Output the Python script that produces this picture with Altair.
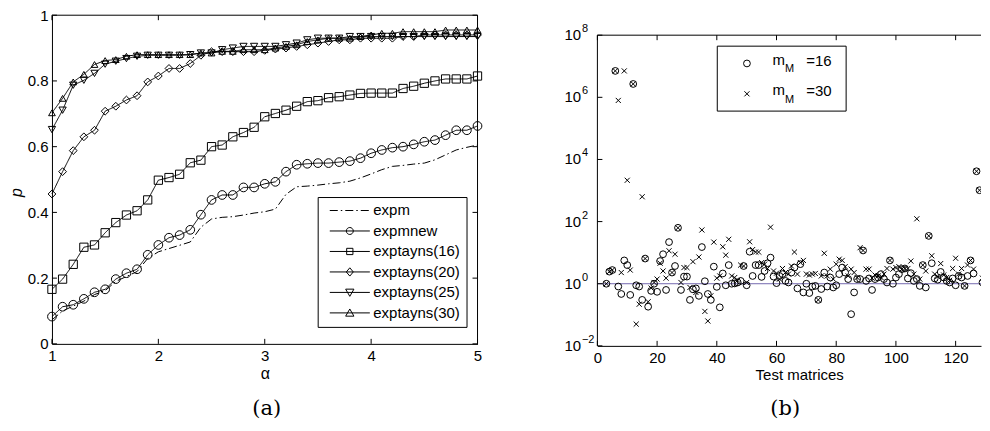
import altair as alt
import pandas as pd

FONT = "Liberation Sans"

# ---------------- panel (a): performance profile ----------------
alpha = [1.0, 1.1, 1.2, 1.3, 1.4, 1.5, 1.6, 1.7, 1.8, 1.9,
         2.0, 2.1, 2.2, 2.3, 2.4, 2.5, 2.6, 2.7, 2.8, 2.9,
         3.0, 3.1, 3.2, 3.3, 3.4, 3.5, 3.6, 3.7, 3.8, 3.9,
         4.0, 4.1, 4.2, 4.3, 4.4, 4.5, 4.6, 4.7, 4.8, 4.9, 5.0]
expm = [0.073, 0.100, 0.115, 0.130, 0.150, 0.162, 0.190, 0.205, 0.220, 0.260,
        0.280, 0.290, 0.300, 0.310, 0.355, 0.380, 0.385, 0.387, 0.392, 0.398,
        0.402, 0.410, 0.455, 0.478, 0.480, 0.483, 0.487, 0.490, 0.495, 0.505,
        0.517, 0.530, 0.540, 0.543, 0.547, 0.550, 0.560, 0.575, 0.590, 0.598, 0.605]
expmnew = [0.083, 0.113, 0.119, 0.137, 0.157, 0.166, 0.197, 0.215, 0.227, 0.271,
           0.301, 0.323, 0.331, 0.347, 0.393, 0.438, 0.453, 0.453, 0.476, 0.476,
           0.487, 0.493, 0.524, 0.545, 0.548, 0.550, 0.550, 0.553, 0.556, 0.565,
           0.580, 0.590, 0.597, 0.600, 0.607, 0.615, 0.620, 0.635, 0.650, 0.650, 0.663]
t16 = [0.166, 0.197, 0.242, 0.294, 0.301, 0.338, 0.369, 0.392, 0.405, 0.438,
       0.498, 0.506, 0.516, 0.551, 0.559, 0.600, 0.605, 0.630, 0.643, 0.659,
       0.691, 0.701, 0.711, 0.723, 0.737, 0.740, 0.749, 0.752, 0.757, 0.762,
       0.763, 0.763, 0.763, 0.777, 0.784, 0.793, 0.800, 0.806, 0.806, 0.806, 0.815]
t20 = [0.456, 0.524, 0.588, 0.630, 0.650, 0.708, 0.723, 0.742, 0.755, 0.797,
       0.815, 0.838, 0.838, 0.853, 0.878, 0.889, 0.889, 0.889, 0.889, 0.889,
       0.893, 0.897, 0.900, 0.905, 0.910, 0.915, 0.920, 0.925, 0.925, 0.930,
       0.930, 0.930, 0.930, 0.935, 0.935, 0.940, 0.940, 0.940, 0.940, 0.940, 0.940]
t25 = [0.652, 0.711, 0.787, 0.802, 0.823, 0.851, 0.860, 0.868, 0.875, 0.878,
       0.878, 0.878, 0.878, 0.880, 0.885, 0.885, 0.895, 0.900, 0.905, 0.905,
       0.905, 0.905, 0.910, 0.915, 0.925, 0.930, 0.930, 0.930, 0.935, 0.935,
       0.935, 0.935, 0.935, 0.935, 0.935, 0.935, 0.935, 0.935, 0.935, 0.935, 0.935]
t30 = [0.703, 0.747, 0.797, 0.820, 0.850, 0.862, 0.865, 0.875, 0.880, 0.880,
       0.880, 0.880, 0.880, 0.880, 0.885, 0.885, 0.890, 0.890, 0.895, 0.895,
       0.895, 0.900, 0.905, 0.910, 0.920, 0.925, 0.930, 0.930, 0.930, 0.935,
       0.940, 0.945, 0.945, 0.950, 0.950, 0.950, 0.950, 0.955, 0.955, 0.955, 0.955]
series_names = ["expm", "expmnew", "exptayns(16)", "exptayns(20)",
                "exptayns(25)", "exptayns(30)"]
xa_ticks = [1, 2, 3, 4, 5]
ya_ticks = [0, 0.2, 0.4, 0.6, 0.8, 1]

# ---------------- panel (b): ratios per test matrix ----------------
matrix_index = list(range(3, 131))
log10_m16 = [0.00, 0.39, 0.44, 6.85, -0.09, -0.33, 0.75, 0.60, -0.36, 6.43,
             -0.05, -0.09, -0.52, 0.81, -0.74, -0.23, 0.00, -0.26, 0.73, 0.95,
             -0.20, 1.34, 0.36, 0.57, 1.80, -0.20, 0.23, 0.23, -0.52, -0.18,
             -0.15, -0.39, 1.18, 0.08, -0.33, -0.52, 0.55, -0.10, -0.76, 0.33,
             -0.05, 0.60, 0.00, 0.01, 0.04, 0.09, 0.57, -0.05, 1.03, 0.25,
             0.60, 0.60, 0.22, 0.41, 0.66, 0.84, 0.23, 0.02, 0.25, 0.31,
             0.09, 0.04, 0.36, 0.52, -0.15, 0.63, -0.28, 0.00, -0.30, -0.09,
             -0.07, -0.52, -0.17, 0.36, -0.09, 0.20, -0.12, -0.05, 0.31, 0.52,
             0.36, 0.15, -0.98, -0.28, 0.15, 0.15, 1.07, 0.09, 0.17, -0.20,
             0.15, 0.20, 0.31, 0.15, 0.04, 0.75, 0.00, 0.20, 0.31, 0.47,
             0.49, 0.17, 0.34, 0.09, 0.15, -0.07, 0.60, -0.12, 1.54, 0.66,
             0.17, 0.13, 0.38, 0.20, 0.09, 0.04, 0.17, -0.05, 0.25, 0.20,
             -0.07, 0.25, 0.75, 0.33, 3.62, 3.01, 0.04, 0.70]
log10_m30 = [0.00, 0.39, 0.44, 6.85, 5.90, 0.36, 6.85, 3.33, 0.44, 6.43,
             -1.30, -0.66, 2.80, 0.81, -0.58, -0.14, 0.04, 0.15, 0.66, 0.41,
             0.18, 1.06, 0.36, 0.95, 1.80, 0.04, 0.52, 0.52, -0.12, 0.71,
             -0.28, 0.86, 1.73, -0.89, -1.20, -0.39, 1.34, 0.18, 0.25, 1.19,
             0.92, 1.43, 0.25, 0.20, 0.11, 0.60, 0.57, 0.04, 1.35, 1.10,
             1.02, 1.02, 0.68, 0.63, 0.49, 1.82, 0.41, 0.34, 0.15, 0.49,
             0.36, 0.31, 0.57, 1.02, 0.31, 0.68, 0.75, 0.31, 0.28, 0.31,
             0.33, -0.52, 0.25, 0.98, 0.25, 0.47, 0.15, 0.63, 0.79, 0.75,
             0.55, 0.25, 0.47, 0.36, 0.20, 1.16, 1.07, 0.47, 0.47, 0.18,
             0.28, 0.25, 0.20, 0.31, 0.49, 0.75, 0.47, 0.52, 0.55, 0.47,
             0.49, 0.49, 0.73, 0.31, 2.09, 0.15, 0.60, 0.41, 1.54, 0.90,
             0.31, 0.23, 0.65, 0.28, 0.20, 0.11, 0.49, 0.82, 0.31, 0.49,
             -0.07, 0.60, 0.75, 0.47, 3.62, 3.01, 0.18, 0.70]
xb_ticks = [0, 20, 40, 60, 80, 100, 120]
yb_ticks = [1e-2, 1e0, 1e2, 1e4, 1e6, 1e8]
yb_exponents = ["\u22122", "0", "2", "4", "6", "8"]

# ---------------- build tables ----------------
rows = []
for name, vals in zip(series_names, [expm, expmnew, t16, t20, t25, t30]):
    for a, p in zip(alpha, vals):
        rows.append({"alpha": a, "p": p, "series": name})
dfa = pd.DataFrame(rows)

dfb = pd.DataFrame({
    "n": matrix_index + matrix_index,
    "v": [10 ** e for e in log10_m16] + [10 ** e for e in log10_m30],
    "series": ["m16"] * len(matrix_index) + ["m30"] * len(matrix_index),
})
one = pd.DataFrame({"k": [0]})

TICK = 5
rule_kw = dict(color="black", strokeWidth=1)

# ---------------- panel (a) chart ----------------
W1, H1 = 426, 329
xa = alt.X("alpha:Q", scale=alt.Scale(domain=[1, 5], nice=False, zero=False),
           axis=alt.Axis(values=xa_ticks, title="α", ticks=False, grid=False,
                         domain=True, domainColor="black", domainWidth=1,
                         labelFontSize=15, labelPadding=5, labelFlush=False,
                         titleFontSize=16, titlePadding=2, titleFontWeight="normal"))
ya = alt.Y("p:Q", scale=alt.Scale(domain=[0, 1], nice=False, zero=False),
           axis=alt.Axis(values=ya_ticks, format="~g", title="p", ticks=False, grid=False,
                         domain=True, domainColor="black", domainWidth=1,
                         labelFontSize=15, labelPadding=4, labelFlush=False,
                         titleFontSize=16, titleFontStyle="italic",
                         titleFontWeight="normal", titlePadding=3, titleY=177))

dash_range = [[8, 3, 1.5, 3], [1, 0], [1, 0], [1, 0], [1, 0], [1, 0]]
lines = alt.Chart(dfa).mark_line(color="black", strokeWidth=1).encode(
    x=xa, y=ya,
    strokeDash=alt.StrokeDash("series:N", scale=alt.Scale(domain=series_names, range=dash_range),
                              legend=None),
    order="alpha:Q")

marker_names = series_names[1:]
pts = alt.Chart(dfa).transform_filter(alt.datum.series != "expm").mark_point(
    filled=False, color="black", strokeWidth=1, opacity=1).encode(
    x=xa, y=ya,
    shape=alt.Shape("series:N", scale=alt.Scale(
        domain=marker_names,
        range=["circle", "square", "diamond", "triangle-down", "triangle-up"]), legend=None),
    size=alt.Size("series:N", scale=alt.Scale(domain=marker_names, range=[76, 45, 70, 90, 90]),
                  legend=None))

legend_paths = [
    "M-4.6,0H-2.76M-2.07,0H-1.73M-1.04,0H0.8M1.49,0H1.83M2.52,0H4.36",
    "M-4.6,0H4.6M0.8,0A0.8,0.8 0 1,1 -0.8,0A0.8,0.8 0 1,1 0.8,0",
    "M-4.6,0H4.6M-0.72,-0.72H0.72V0.72H-0.72Z",
    "M-4.6,0H4.6M0,-0.95L0.8,0L0,0.95L-0.8,0Z",
    "M-4.6,0H4.6M-0.95,-0.75H0.95L0,0.9Z",
    "M-4.6,0H4.6M-0.95,0.75H0.95L0,-0.9Z",
]
leg = alt.Chart(dfa).transform_filter("datum.p < -1").mark_point(
    filled=False, color="black", strokeWidth=1).encode(
    x=xa, y=ya,
    shape=alt.Shape("series:N", scale=alt.Scale(domain=series_names, range=legend_paths),
                    legend=alt.Legend(title=None, orient="none", legendX=266, legendY=182,
                                      direction="vertical", symbolSize=76,
                                      symbolStrokeColor="black", symbolFillColor="transparent",
                                      symbolStrokeWidth=1, symbolOpacity=1,
                                      labelFont=FONT, labelFontSize=15, labelColor="black",
                                      labelLimit=300, strokeColor="black", fillColor="white",
                                      padding=6, rowPadding=4.5, symbolOffset=18.65,
                                      labelOffset=16)))

ta_x = pd.DataFrame({"alpha": xa_ticks})
ta_y = pd.DataFrame({"p": ya_ticks})
a_bt = alt.Chart(ta_x).mark_rule(**rule_kw).encode(x=xa, y=alt.value(H1), y2=alt.value(H1 - TICK))
a_tt = alt.Chart(ta_x).mark_rule(**rule_kw).encode(x=xa, y=alt.value(0), y2=alt.value(TICK))
a_lt = alt.Chart(ta_y).mark_rule(**rule_kw).encode(y=ya, x=alt.value(0), x2=alt.value(TICK))
a_rt = alt.Chart(ta_y).mark_rule(**rule_kw).encode(y=ya, x=alt.value(W1), x2=alt.value(W1 - TICK))
a_top = alt.Chart(one).mark_rule(**rule_kw).encode(x=alt.value(0), x2=alt.value(W1), y=alt.value(0))
a_right = alt.Chart(one).mark_rule(**rule_kw).encode(x=alt.value(W1), y=alt.value(0), y2=alt.value(H1))

chart_a = alt.layer(lines, pts, leg, a_bt, a_tt, a_lt, a_rt, a_top, a_right).resolve_scale(
    shape="independent", size="independent").properties(
    width=W1, height=H1,
    title=alt.TitleParams("(a)", orient="bottom", font="DejaVu Serif", fontSize=21,
                          fontWeight="normal", color="black", anchor="middle",
                          frame="group", offset=16, dx=2))

# ---------------- panel (b) chart ----------------
W2, H2 = 384, 331
TOP2 = 20  # the framed plot starts this far below the top of panel (a)
xb = alt.X("n:Q", scale=alt.Scale(domain=[0, 128.5], nice=False, zero=False),
           axis=alt.Axis(values=xb_ticks, title="Test matrices", ticks=False, grid=False,
                         domain=True, domainColor="black", domainWidth=1,
                         labelFontSize=15, labelPadding=5, labelFlush=False,
                         titleFontSize=15, titlePadding=2, titleFontWeight="normal",
                         titleX=202))
yb = alt.Y("v:Q", scale=alt.Scale(type="log", domain=[1e-2, 1e8], nice=False,
                                  range=[H2, TOP2]),
           axis=alt.Axis(values=yb_ticks, labels=False, ticks=False, grid=False,
                         domain=False, title=None))

cross_path = "M-1,-1L1,1M-1,1L1,-1"
hline = alt.Chart(pd.DataFrame({"v": [1]})).mark_rule(color="#7468b0", strokeWidth=1).encode(y=yb)
circles = alt.Chart(dfb).transform_filter(alt.datum.series == "m16").mark_point(
    shape="circle", size=46, filled=False, color="black", strokeWidth=1, opacity=1,
    clip=True).encode(x=xb, y=yb)
crosses = alt.Chart(dfb).transform_filter(alt.datum.series == "m30").mark_point(
    shape=cross_path, size=26, filled=False, color="black", strokeWidth=1, opacity=1,
    clip=True).encode(x=xb, y=yb)

tb_x = pd.DataFrame({"n": xb_ticks})
tb_y = pd.DataFrame({"v": yb_ticks, "e": yb_exponents})
b_bt = alt.Chart(tb_x).mark_rule(**rule_kw).encode(x=xb, y=alt.value(H2), y2=alt.value(H2 - TICK))
b_tt = alt.Chart(tb_x).mark_rule(**rule_kw).encode(x=xb, y=alt.value(TOP2), y2=alt.value(TOP2 + TICK))
b_lt = alt.Chart(tb_y).mark_rule(**rule_kw).encode(y=yb, x=alt.value(0), x2=alt.value(TICK))
b_top = alt.Chart(one).mark_rule(**rule_kw).encode(x=alt.value(0), x2=alt.value(W2), y=alt.value(TOP2))
b_left = alt.Chart(one).mark_rule(**rule_kw).encode(x=alt.value(0), y=alt.value(TOP2), y2=alt.value(H2))

ylab_base = alt.Chart(tb_y).mark_text(font=FONT, fontSize=15, align="right", baseline="middle",
                                      color="black").encode(
    y=yb, x=alt.value(-16.3), text=alt.value("10"))
ylab_exp = alt.Chart(tb_y).mark_text(font=FONT, fontSize=11, align="left", baseline="middle",
                                     color="black", dy=-6).encode(
    y=yb, x=alt.value(-15.5), text="e:N")

LY = TOP2
leg_box = alt.Chart(one).mark_rect(fill="white", stroke="black", strokeWidth=1).encode(
    x=alt.value(120), x2=alt.value(249), y=alt.value(LY + 11), y2=alt.value(LY + 76))
leg_c = alt.Chart(one).mark_point(shape="circle", size=46, filled=False, color="black",
                                  strokeWidth=1, opacity=1).encode(
    x=alt.value(149.7), y=alt.value(LY + 28.3))
leg_x = alt.Chart(one).mark_point(shape=cross_path, size=26, filled=False, color="black",
                                  strokeWidth=1, opacity=1).encode(
    x=alt.value(149.7), y=alt.value(LY + 58.7))


def txt(s, x, y, size):
    return alt.Chart(one).mark_text(font=FONT, fontSize=size, align="left",
                                    baseline="middle", color="black").encode(
        x=alt.value(x), y=alt.value(LY + y), text=alt.value(s))


leg_texts = [
    txt("m", 175.3, 25.1, 15), txt("M", 187.7, 34.2, 11), txt("=16", 209, 25.8, 15),
    txt("m", 175.3, 55.1, 15), txt("M", 187.7, 65.0, 11), txt("=30", 209, 55.8, 15),
]

chart_b = alt.layer(hline, circles, crosses, b_bt, b_tt, b_lt, b_top, b_left,
                    ylab_base, ylab_exp, leg_box, leg_c, leg_x, *leg_texts).properties(
    width=W2, height=H2,
    title=alt.TitleParams("(b)", orient="bottom", font="DejaVu Serif", fontSize=21,
                          fontWeight="normal", color="black", anchor="middle",
                          frame="group", offset=15, dx=-4))

chart = alt.hconcat(chart_a, chart_b, spacing=80).properties(
    padding={"left": 0, "top": 0, "right": 0, "bottom": 0}
).configure_view(strokeWidth=0).configure_axis(
    labelFont=FONT, titleFont=FONT, labelColor="black", titleColor="black")

chart.save("out.html", embed_options={"renderer": "svg", "actions": False})
